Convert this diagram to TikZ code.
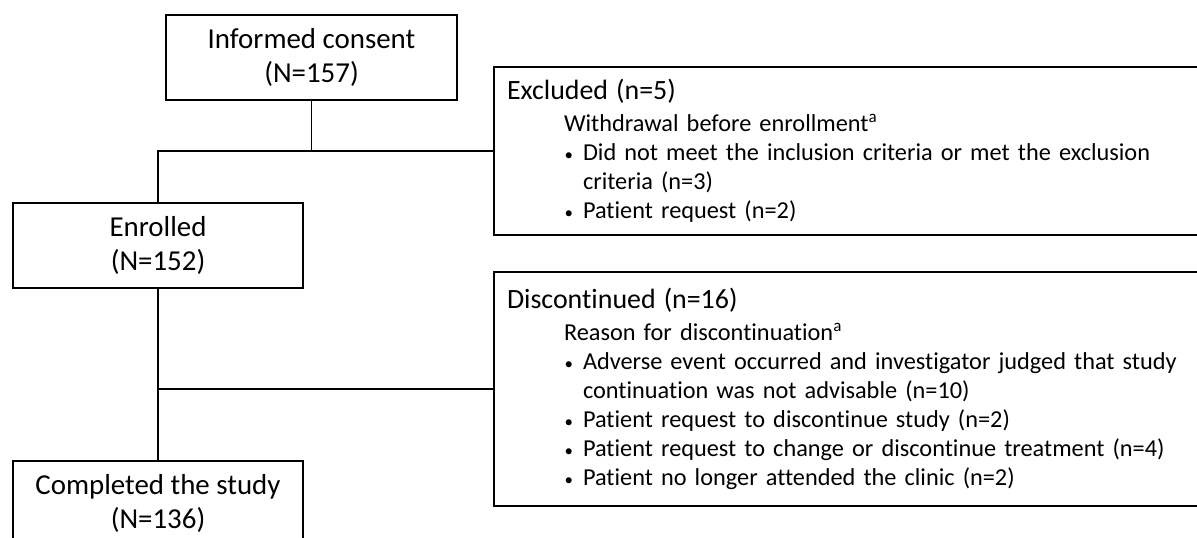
\documentclass[tikz,border=0pt]{standalone}
\usepackage{fontspec}
\setmainfont{Carlito}[Ligatures=NoCommon]
\newcommand\headfont{\fontsize{28}{29}\selectfont}
\newcommand\dotitem{\hspace*{76bp}\llap{{\fontsize{17}{17}\selectfont\textbullet}\hspace{10bp}}}
\begin{document}
\begin{tikzpicture}[x=1bp,y=1bp,line width=1.6bp,
  bigbox/.style={draw,line width=2bp,minimum width=290bp,minimum height=85bp,align=center,
    font=\fontsize{29}{35}\selectfont},
  listbox/.style={draw,line width=2bp,anchor=west,inner xsep=13bp,inner ysep=0pt,text width=704bp,
    align=left,font=\fontsize{24.4}{29}\selectfont}]
\useasboundingbox (0,0) rectangle (1197,538);
\clip (0,0) rectangle (1197,538);
% boxes on the left
\node[bigbox] (consent) at (311.5,480.5) {Informed consent\\(N=157)};
\node[bigbox] (enrolled) at (158,292.5) {Enrolled\\(N=152)};
\node[bigbox] (completed) at (158,34.5) {Completed the study\\(N=136)};
% boxes on the right
\node[listbox,minimum height=168bp] (excluded) at (493,387) {{\headfont Excluded (n=5)}\\[3bp]
  \hspace*{57bp}Withdrawal before enrollment\textsuperscript{a}\\
  \dotitem Did not meet the inclusion criteria or met the exclusion\\
  \hspace*{76bp}criteria (n=3)\\
  \dotitem Patient request (n=2)};
\node[listbox,minimum height=234bp] (discont) at (493,149) {{\headfont Discontinued (n=16)}\\[3bp]
  \hspace*{57bp}Reason for discontinuation\textsuperscript{a}\\
  \dotitem Adverse event occurred and investigator judged that study\\
  \hspace*{76bp}continuation was not advisable (n=10)\\
  \dotitem Patient request to discontinue study (n=2)\\
  \dotitem Patient request to change or discontinue treatment (n=4)\\
  \dotitem Patient no longer attended the clinic (n=2)};
% connectors
\draw (consent.south) -- (consent.south |- excluded.west);
\draw (enrolled.north) |- (excluded.west);
\draw (enrolled.south) -- (completed.north);
\draw (enrolled.south |- discont.west) -- (discont.west);
\end{tikzpicture}
\end{document}
